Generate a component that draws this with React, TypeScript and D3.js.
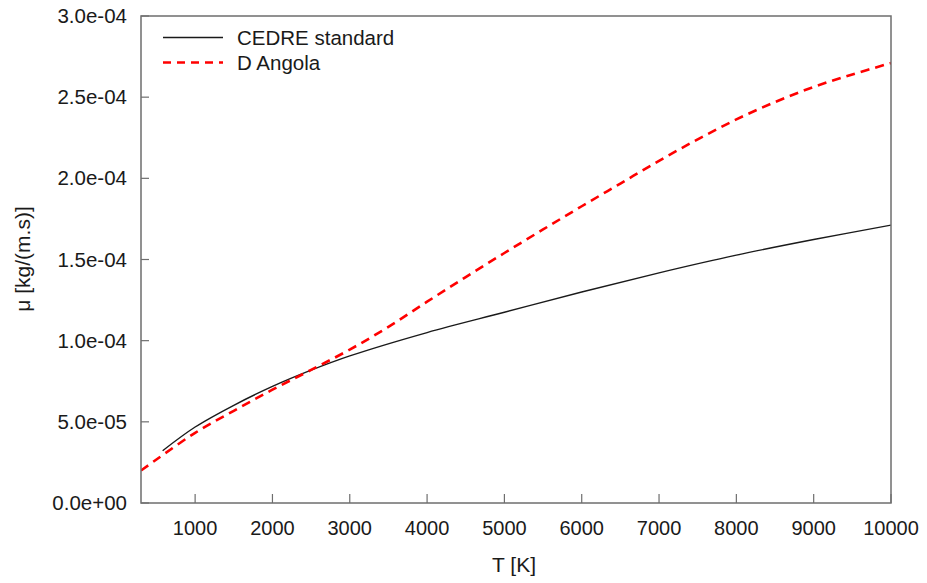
import React from "react";
import * as d3 from "d3";

const cedreT = [580, 1000, 1500, 2000, 2500, 3000, 4000, 5000, 6000, 7000, 8000, 9000, 10000];
const cedreMu = [0.322e-4, 0.468e-4, 0.602e-4, 0.718e-4, 0.818e-4, 0.906e-4, 1.05e-4, 1.175e-4, 1.3e-4, 1.418e-4, 1.527e-4, 1.623e-4, 1.712e-4];

const angolaT = [300, 500, 1000, 1500, 2000, 2500, 3000, 3500, 4000, 4500, 5000, 5500, 6000, 6500, 7000, 7500, 8000, 8500, 9000, 9500, 10000];
const angolaMu = [0.2e-4, 0.268e-4, 0.432e-4, 0.568e-4, 0.698e-4, 0.82e-4, 0.945e-4, 1.085e-4, 1.24e-4, 1.392e-4, 1.54e-4, 1.685e-4, 1.828e-4, 1.968e-4, 2.108e-4, 2.24e-4, 2.363e-4, 2.47e-4, 2.563e-4, 2.64e-4, 2.71e-4];

const xTicks = [1000, 2000, 3000, 4000, 5000, 6000, 7000, 8000, 9000, 10000];
const yTicks = [0, 0.5e-4, 1.0e-4, 1.5e-4, 2.0e-4, 2.5e-4, 3.0e-4];
const yTickLabels = ["0.0e+00", "5.0e-05", "1.0e-04", "1.5e-04", "2.0e-04", "2.5e-04", "3.0e-04"];

const seriesNames = ["CEDRE standard", "D Angola"];

export default function App() {
  const W = 927, H = 583;
  const L = 141, R = 891, T = 16, B = 503;
  const x = d3.scaleLinear().domain([300, 10000]).range([L, R]);
  const y = d3.scaleLinear().domain([0, 3e-4]).range([B, T]);
  const line = d3
    .line<[number, number]>()
    .x((d) => x(d[0]))
    .y((d) => y(d[1]))
    .curve(d3.curveCatmullRom.alpha(0.5));
  const cedre = line(cedreT.map((t, i) => [t, cedreMu[i]] as [number, number])) || "";
  const angola = line(angolaT.map((t, i) => [t, angolaMu[i]] as [number, number])) || "";
  const font = "'Liberation Sans', Arial, sans-serif";
  const axisColor = "#6e6e6e";
  const textColor = "#1a1a1a";
  return (
    <svg
      width={W}
      height={H}
      style={{ position: "absolute", left: 0, top: 0, background: "#fff" }}
      fontFamily={font}
    >
      <rect x={0} y={0} width={W} height={H} fill="#fff" />
      <defs>
        <clipPath id="plotclip">
          <rect x={L} y={T} width={R - L} height={B - T} />
        </clipPath>
      </defs>
      {xTicks.map((t) => (
        <g key={"x" + t}>
          <line x1={x(t)} x2={x(t)} y1={B} y2={B - 9} stroke={axisColor} strokeWidth={1.2} />
          <text x={x(t)} y={535} textAnchor="middle" fontSize={20} fill={textColor}>
            {t}
          </text>
        </g>
      ))}
      {yTicks.map((t, i) => (
        <g key={"y" + t}>
          <line x1={L} x2={L + 8} y1={y(t)} y2={y(t)} stroke={axisColor} strokeWidth={1.2} />
          <text x={127} y={y(t) + 7} textAnchor="end" fontSize={20.5} fill={textColor}>
            {yTickLabels[i]}
          </text>
        </g>
      ))}
      <g clipPath="url(#plotclip)">
        <path d={cedre} fill="none" stroke="#1a1a1a" strokeWidth={1.4} />
        <path d={angola} fill="none" stroke="#ff0000" strokeWidth={2.6} strokeDasharray="9,6" />
      </g>
      <rect x={L} y={T} width={R - L} height={B - T} fill="none" stroke={axisColor} strokeWidth={1.5} />
      <line x1={163} x2={223} y1={37.5} y2={37.5} stroke="#1a1a1a" strokeWidth={1.4} />
      <text x={237} y={45} fontSize={20.5} fill={textColor}>
        {seriesNames[0]}
      </text>
      <line x1={163} x2={223} y1={62.5} y2={62.5} stroke="#ff0000" strokeWidth={2.6} strokeDasharray="8,6" />
      <text x={237} y={70} fontSize={20.5} fill={textColor}>
        {seriesNames[1]}
      </text>
      <text x={514} y={572} textAnchor="middle" fontSize={21} fill={textColor}>
        T [K]
      </text>
      <text
        transform={`translate(30, 259) rotate(-90)`}
        textAnchor="middle"
        fontSize={21}
        fill={textColor}
      >
        μ [kg/(m.s)]
      </text>
    </svg>
  );
}
